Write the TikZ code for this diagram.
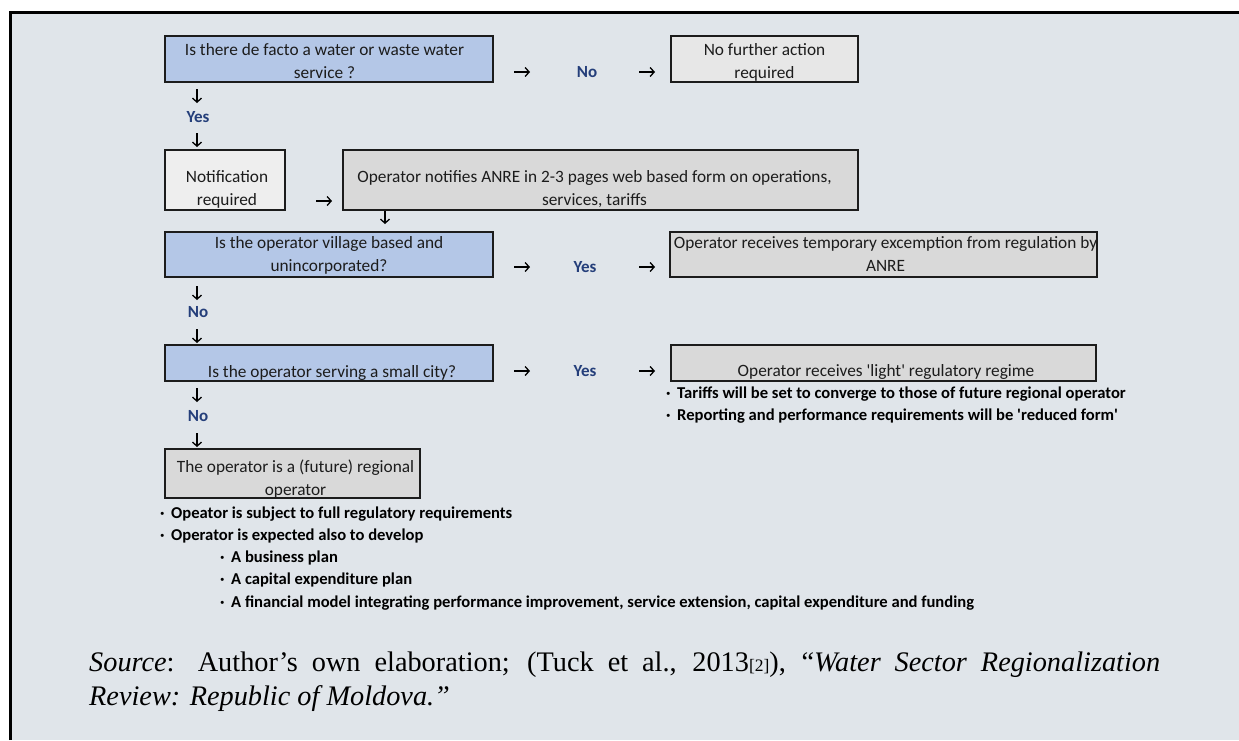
\documentclass[tikz,border=0pt]{standalone}
\usepackage{fontspec}
\setmainfont{Carlito}[Ligatures=TeXOff]
\newfontfamily\citeserif{Liberation Serif}
\usetikzlibrary{arrows.meta}

\definecolor{panelbg}{RGB}{224,229,234}
\definecolor{qblue}{RGB}{180,199,231}
\definecolor{stepgray}{RGB}{217,217,217}
\definecolor{stoplight}{RGB}{231,231,231}
\definecolor{notepale}{RGB}{238,238,238}
\definecolor{answerblue}{RGB}{36,62,122}
\definecolor{ink}{RGB}{28,28,28}

\newcommand\flowfont{\fontsize{17.3}{23}\selectfont}
\newcommand\notefont{\fontsize{16.6}{22}\selectfont\bfseries}
% box text: [2 x horizontal offset]{raise of first baseline above box centre}{lines}
\newcommand\boxtext[3][0pt]{\hspace*{#1}\raisebox{#2}[0pt][0pt]{\begin{tabular}[t]{@{}c@{}}#3\end{tabular}}}
\newcommand\bul{\makebox[11pt][l]{·}}

\begin{document}
\begin{tikzpicture}[x=1pt,y=-1pt,
  flowbox/.style={draw=ink, line width=1.4pt, inner sep=0pt, font=\flowfont, text=ink},
  question/.style={flowbox, fill=qblue},
  outcome/.style={flowbox, fill=stepgray},
  answer/.style={font=\fontsize{17}{20}\selectfont\bfseries, text=answerblue, inner sep=0pt, anchor=base},
  flowarrow/.style={line width=1.3pt, -{Straight Barb[length=4pt,width=9pt]}},
  note/.style={font=\notefont, anchor=base west, inner sep=0pt},
  citeline/.style={font=\citeserif\fontsize{28.3}{34}\selectfont, anchor=base west, inner sep=0pt},
]
\useasboundingbox (0,0) rectangle (1239,740);
\fill[white] (0,0) rectangle (1239,740);
\fill[panelbg] (10,12) rectangle (1239,740);
\draw[line width=2.5pt] (10.25,740) -- (10.25,12.25) -- (1239,12.25);

% ---- boxes ----
\node[question, minimum width=328pt, minimum height=46pt] (q1) at (329,59)
  {\boxtext[-9pt]{4pt}{Is there de facto a water or waste water\\service ?}};
\node[flowbox, fill=stoplight, minimum width=187pt, minimum height=46pt] (stop) at (764.5,59)
  {\boxtext{4pt}{No further action\\required}};
\node[flowbox, fill=notepale, minimum width=120pt, minimum height=60pt] (notif) at (225,180)
  {\boxtext[4pt]{-2pt}{Notification\\required}};
\node[outcome, minimum width=515pt, minimum height=60pt] (form) at (600.5,180)
  {\boxtext[-12pt]{-2pt}{Operator notifies ANRE in 2-3 pages web based form on operations,\\services, tariffs}};
\node[question, minimum width=328pt, minimum height=45pt] (q2) at (329,254.5)
  {\boxtext{6.5pt}{Is the operator village based and\\unincorporated?}};
\node[outcome, minimum width=425pt, minimum height=45pt] (exempt) at (883.5,254.5)
  {\boxtext[4pt]{6pt}{Operator receives temporary excemption from regulation by\\ANRE}};
\node[question, minimum width=328pt, minimum height=36pt] (q3) at (329,363)
  {\boxtext[6pt]{-14pt}{Is the operator serving a small city?}};
\node[outcome, minimum width=425pt, minimum height=36pt] (light) at (883.5,363)
  {\boxtext[5pt]{-13pt}{Operator receives 'light' regulatory regime}};
\node[outcome, minimum width=255pt, minimum height=49pt] (regional) at (292.5,473.5)
  {\boxtext[6pt]{1.5pt}{The operator is a (future) regional\\operator}};

% ---- answers ----
\node[answer] (no1)  at (587,77)  {No};
\node[answer] (yes1) at (198,122) {Yes};
\node[answer] (yes2) at (585,272) {Yes};
\node[answer] (no2)  at (198,317) {No};
\node[answer] (yes3) at (585,376) {Yes};
\node[answer] (no3)  at (198,421) {No};

% ---- arrows ----
\coordinate (h1a) at (514,72);  \coordinate (h1b) at (530,72);
\coordinate (h2a) at (639,72);  \coordinate (h2b) at (655,72);
\coordinate (h3a) at (316,201); \coordinate (h3b) at (332,201);
\coordinate (h4a) at (514,267); \coordinate (h4b) at (530,267);
\coordinate (h5a) at (639,267); \coordinate (h5b) at (655,267);
\coordinate (h6a) at (514,371); \coordinate (h6b) at (530,371);
\coordinate (h7a) at (639,371); \coordinate (h7b) at (655,371);
\foreach \s/\e in {h1a/h1b,h2a/h2b,h3a/h3b,h4a/h4b,h5a/h5b,h6a/h6b,h7a/h7b}
  \draw[flowarrow] (\s) -- (\e);

\coordinate (v1a) at (197,89);  \coordinate (v1b) at (197,103);
\coordinate (v2a) at (197,133); \coordinate (v2b) at (197,147);
\coordinate (v3a) at (385,211); \coordinate (v3b) at (385,224);
\coordinate (v4a) at (197,286); \coordinate (v4b) at (197,300);
\coordinate (v5a) at (197,329); \coordinate (v5b) at (197,343);
\coordinate (v6a) at (197,388); \coordinate (v6b) at (197,402);
\coordinate (v7a) at (197,433); \coordinate (v7b) at (197,447);
\foreach \s/\e in {v1a/v1b,v2a/v2b,v3a/v3b,v4a/v4b,v5a/v5b,v6a/v6b,v7a/v7b}
  \draw[flowarrow] (\s) -- (\e);

% ---- notes under the outcomes ----
\node[note] (lt1) at (666,398) {\bul Tariffs will be set to converge to those of future regional operator};
\node[note] (lt2) at (666,420) {\bul Reporting and performance requirements will be 'reduced form'};

\node[note] (rg1) at (160,518) {\bul Opeator is subject to full regulatory requirements};
\node[note] (rg2) at (160,540) {\bul Operator is expected also to develop};
\node[note] (rg3) at (220,562) {\bul A business plan};
\node[note] (rg4) at (220,584) {\bul A capital expenditure plan};
\node[note] (rg5) at (220,607) {\bul A financial model integrating performance improvement, service extension, capital expenditure and funding};

% ---- source line ----
\node[citeline] (src1) at (89,671)
  {\makebox[1071pt][s]{\textit{Source}: Author’s own elaboration; (Tuck et al., 2013{\fontsize{17.5}{17.5}\selectfont[2]}), “\textit{Water Sector Regionalization}}};
\node[citeline] (src2) at (89,705) {\textit{Review: Republic of Moldova.”}};
\end{tikzpicture}
\end{document}
